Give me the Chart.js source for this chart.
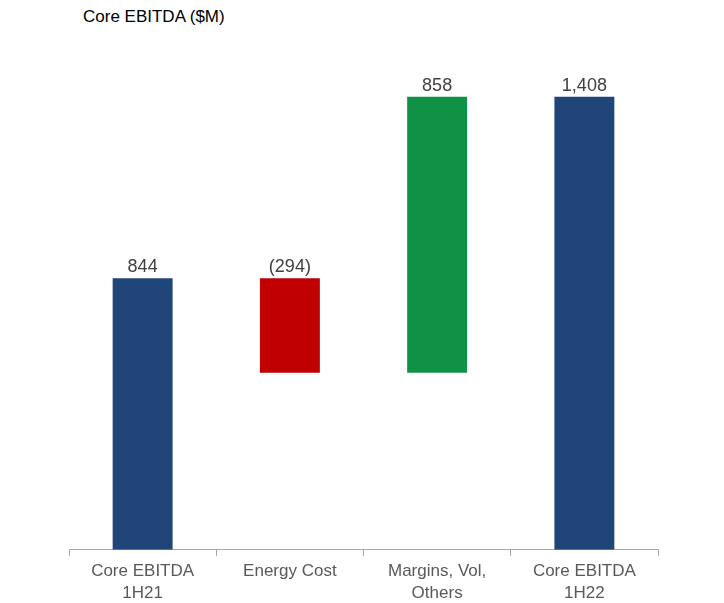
<!DOCTYPE html>
<html><head><meta charset="utf-8">
<script src="https://cdn.jsdelivr.net/npm/chart.js@4"></script>
<style>
html,body{margin:0;padding:0;background:#fff;overflow:hidden;}
#wrap{position:relative;width:724px;height:603px;overflow:hidden;}
#title{position:absolute;left:83px;top:7px;font-family:"Liberation Sans",Arial,sans-serif;font-size:17px;color:#000;}
canvas{position:absolute;left:0;top:0;}
</style></head>
<body><div id="wrap"><div id="title">Core EBITDA ($M)</div><canvas id="c" width="724" height="612"></canvas></div>
<script>
const categories = [["Core EBITDA","1H21"],["Energy Cost"],["Margins, Vol,","Others"],["Core EBITDA","1H22"]];
const barStarts = [0, 550, 550, 0];
const barEnds = [844, 844, 1408, 1408];
const valueLabels = ["844","(294)","858","1,408"];
const barColors = ["#1F4579","#C00000","#0F9246","#1F4579"];

const labelPlugin = {
  id:'vlabels',
  afterDatasetsDraw(chart){
    const ctx = chart.ctx;
    const meta = chart.getDatasetMeta(0);
    ctx.save();
    ctx.font = '18px "Liberation Sans", Arial, sans-serif';
    ctx.fillStyle = '#404040';
    ctx.textAlign = 'center';
    ctx.textBaseline = 'alphabetic';
    meta.data.forEach((el,i)=>{
      const top = Math.min(el.y, el.base);
      ctx.fillText(valueLabels[i], el.x, top - 6);
    });
    ctx.restore();
  }
};

new Chart(document.getElementById('c'), {
  type:'bar',
  data:{
    labels: categories,
    datasets:[{
      data: barStarts.map((s,i)=>[s, barEnds[i]]),
      backgroundColor: barColors,
      borderWidth:0,
      barPercentage:0.407,
      categoryPercentage:1
    }]
  },
  options:{
    responsive:false,
    animation:false,
    layout:{padding:{left:69,right:66,top:35,bottom:4}},
    plugins:{legend:{display:false},tooltip:{enabled:false}},
    scales:{
      y:{display:false,min:0,max:1600},
      x:{
        offset:true,
        grid:{display:true,drawOnChartArea:false,offset:true,tickLength:6,color:'#a6a6a6'},
        border:{display:true,color:'#a6a6a6'},
        ticks:{color:'#595959',font:{family:'"Liberation Sans", Arial, sans-serif',size:17,lineHeight:1.3},padding:4,maxRotation:0,autoSkip:false}
      }
    }
  },
  plugins:[labelPlugin]
});
</script></body></html>
